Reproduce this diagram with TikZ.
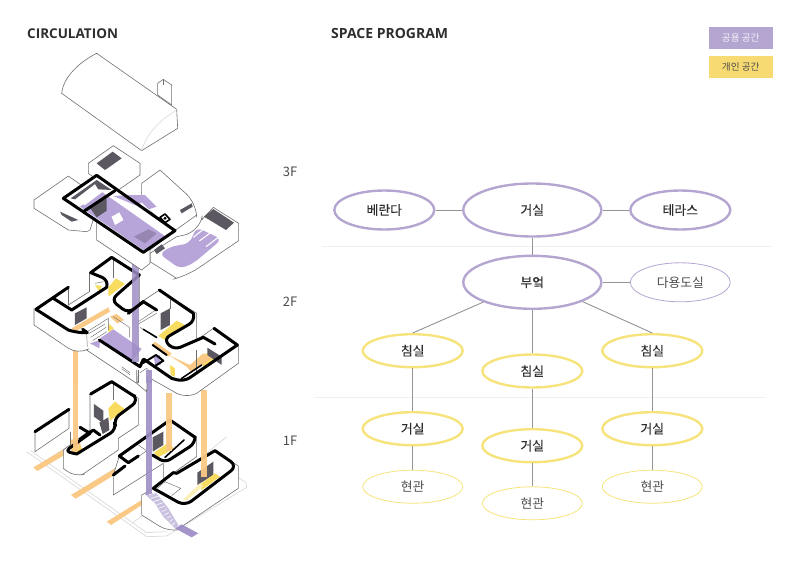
\documentclass[tikz,border=0pt]{standalone}
\usepackage{fontspec}
\setmainfont{Noto Sans CJK KR}
\newfontfamily\strongko[FakeBold=0.35]{Noto Sans CJK KR}
\newfontfamily\latinhead{Open Sans}
\usetikzlibrary{shapes.geometric}
\definecolor{pubc}{HTML}{B5A5D1}
\definecolor{privc}{HTML}{F6E37C}
\definecolor{floorp}{HTML}{B7A4D8}
\definecolor{colp}{HTML}{9F8EC6}
\definecolor{floory}{HTML}{F8DC60}
\definecolor{stripo}{HTML}{FAC985}
\definecolor{darkp}{HTML}{5C5862}
\definecolor{wire}{HTML}{707070}
\definecolor{faint}{HTML}{DADADA}
\definecolor{ink}{HTML}{2E2E2E}
\tikzset{
  base/.style={ellipse,inner sep=0pt,text=ink,font=\strongko\fontsize{12.8}{14}\selectfont},
  pubbig/.style={base,draw=pubc,line width=2.4pt,minimum width=138pt,minimum height=53pt},
  pubmid/.style={base,draw=pubc,line width=2.4pt,minimum width=100pt,minimum height=39pt},
  pubthin/.style={base,draw=pubc,line width=.8pt,minimum width=100pt,minimum height=39pt,text=ink!85,font=\fontsize{12.8}{14}\selectfont},
  privmid/.style={base,draw=privc,line width=2.4pt,minimum width=100pt,minimum height=33pt},
  privthin/.style={base,draw=privc,line width=.8pt,minimum width=100pt,minimum height=33pt,text=ink!85,font=\fontsize{12.8}{14}\selectfont},
  link/.style={draw=black!42,line width=.9pt},
  divider/.style={draw=black!6,line width=.7pt},
  heading/.style={font=\latinhead\bfseries,text=ink,anchor=west,inner sep=0pt},
  floorlab/.style={font=\fontsize{13}{14}\selectfont,text=ink!85,inner sep=0pt},
  legend/.style={minimum width=64pt,minimum height=22.5pt,inner sep=0pt,font=\fontsize{9.6}{10}\selectfont},
  wall/.style={draw=wire,line width=.6pt,fill=white,line join=round},
  thinw/.style={draw=wire,line width=.45pt},
  thick wall/.style={draw=black,line width=3pt,line join=round,line cap=round},
  plate/.style={draw=faint,line width=.7pt},
  zoomA/.style={x=.33333pt,y=-.33333pt,yshift=-30pt},
  zoomB/.style={x=.33333pt,y=-.33333pt,yshift=-250pt},
  zoomC/.style={x=.33333pt,y=-.33333pt,yshift=-380pt},
}
\begin{document}
\begin{tikzpicture}[x=1pt,y=-1pt]
\useasboundingbox (0,0) rectangle (800,565);

% ---------- ground floor ----------
\begin{scope}[zoomC]
  \draw[plate] (80,215) -- (440,470) -- (500,468) -- (740,322) -- (738,308) -- (680,270);
  \draw[plate] (92,212) -- (440,458) -- (500,455);
  \draw[plate] (140,240) -- (210,195);
  \draw[plate] (250,325) -- (345,265);
  \draw[plate] (395,430) -- (430,405);
  \draw[plate] (620,220) -- (680,170);
  % loose wall on the left
  \draw[wall] (105,155) -- (207,88) -- (207,145) -- (105,215) -- cycle;
  \draw[thick wall] (105,155) -- (207,88);
  % entrance strips
  \fill[stripo] (100,262) -- (235,183) -- (245,195) -- (112,273) -- cycle;
  \fill[stripo] (213,345) -- (370,250) -- (380,262) -- (227,356) -- cycle;
  \fill[stripo] (320,425) -- (425,360) -- (430,372) -- (333,435) -- cycle;
  % first block
  \draw[wall] (190,222) -- (190,265) [rounded corners=10pt] -- (225,292) [sharp corners] -- (245,285) -- (355,210) -- (355,175) -- (415,135) -- (415,55) -- (335,5) -- (270,42) -- (270,150) -- (190,210) -- cycle;
  \fill[floory] (325,85) -- (345,65) -- (375,88) -- (330,122) -- cycle;
  \fill[darkp] (282,72) -- (310,92) -- (310,130) -- (282,110) -- cycle;
  \fill[darkp] (298,128) -- (325,112) -- (328,150) -- (308,162) -- cycle;
  \fill[stripo] (210,178) -- (238,178) -- (245,208) -- (215,220) -- cycle;
  \fill[floory!70!stripo] (215,205) -- (240,200) -- (250,210) -- (225,218) -- cycle;
  \draw[thinw] (340,5) -- (340,60);
  \draw[thinw] (210,155) -- (210,195);
  \draw[thick wall] (272,42) -- (335,5) -- (405,50) [rounded corners=7pt] -- (415,62) -- (340,118) -- (350,148) [sharp corners] -- (230,222) [rounded corners=5pt] -- (195,214) [sharp corners] -- (270,160) -- (240,142);
  \draw[thick wall] (240,178) -- (280,150) -- (300,165);
  % second block
  \draw[wall] (340,285) -- (340,345) -- (490,250) -- (490,300) -- (590,230) -- (590,170) -- (510,120) -- (358,228) -- cycle;
  \fill[darkp] (458,172) -- (490,155) -- (490,195) -- (458,215) -- cycle;
  \fill[floory] (462,218) -- (505,188) -- (522,205) -- (475,232) -- cycle;
  \draw[thick wall] (358,228) -- (510,120) -- (585,172) [rounded corners=6pt] -- (585,190) -- (495,248) [sharp corners] -- (458,225);
  \draw[thick wall] (358,228) -- (385,248) -- (415,228);
  \draw[thick wall] (340,285) -- (375,258);
  \draw[thick wall,line width=1.6pt] (495,232) -- (552,180);
  \draw[thinw] (415,195) -- (440,212) -- (418,228);
  % third block
  \draw[wall] (425,345) -- (425,405) [rounded corners=10pt] -- (505,455) [sharp corners] -- (530,450) -- (715,325) -- (715,258) -- (645,212) -- (530,280) -- (520,278) -- (460,325) -- cycle;
  \fill[darkp] (592,278) -- (640,245) -- (640,285) -- (592,315) -- cycle;
  \fill[floory] (598,315) -- (645,280) -- (660,290) -- (605,330) -- cycle;
  \fill[floory!45] (548,360) -- (600,310) -- (610,318) -- (562,360) -- cycle;
  \draw[thick wall] (460,325) [rounded corners=8pt] -- (555,378) -- (712,258) [sharp corners] -- (645,212) -- (530,280) -- (520,278) -- cycle;
  \draw[thinw] (495,305) -- (542,325) -- (515,347);
  \draw[thinw] (468,328) -- (495,305);
  % shafts rising from the ground floor
  \fill[stripo,opacity=.95] (218,0) rectangle (234,212);
  \fill[stripo,opacity=.95] (498,40) rectangle (516,212);
  \fill[stripo,opacity=.95] (602,30) rectangle (620,292);
  \fill[colp,opacity=.9] (438,0) rectangle (456,345);
  % entrance stair with its treads
  \fill[colp,opacity=.55] (432,340) -- (468,338) -- (505,385) -- (535,435) -- (525,445) -- (490,410) -- (465,370) -- cycle;
  \foreach \t in {0,1,...,9}
    \draw[white,line width=.6pt] ({445+\t*8},{345+\t*10}) -- ({470+\t*6},{338+\t*10});
  \fill[colp,opacity=.95] (525,445) -- (545,433) -- (595,460) -- (575,472) -- cycle;
\end{scope}

% ---------- upper bedroom floor ----------
\begin{scope}[zoomB]
  \fill[stripo] (218,300) rectangle (234,400);
  \draw[wall] (102,178) -- (102,225) [rounded corners=12pt] -- (235,315) [sharp corners] -- (260,300) -- (410,400) -- (410,360) -- (412,402) -- (440,425) -- (442,380) [rounded corners=12pt] -- (560,447) [sharp corners] -- (590,430) -- (715,340) -- (715,285) -- (640,235) -- (590,270) -- (590,190) -- (478,120) -- (418,160) -- (418,75) -- (335,22) -- (268,68) -- (268,125) -- (205,165) -- (205,110) -- cycle;
  % floors and finishes
  \fill[floory] (325,112) -- (348,85) -- (375,102) -- (325,140) -- cycle;
  \fill[floory] (285,105) -- (305,108) -- (298,125) -- cycle;
  \fill[floory] (475,258) -- (530,212) -- (560,228) -- (495,270) -- cycle;
  \fill[floory] (325,220) -- (342,235) -- (325,248) -- cycle;
  \fill[floory] (600,318) -- (635,305) -- (642,335) -- (610,350) -- cycle;
  \fill[floory] (510,345) -- (525,355) -- (525,380) -- (512,375) -- cycle;
  \fill[stripo] (215,235) -- (325,172) -- (330,185) -- (225,245) -- cycle;
  \fill[stripo] (330,200) -- (350,192) -- (372,210) -- (352,220) -- cycle;
  \fill[stripo] (455,285) -- (465,275) -- (515,310) -- (505,320) -- cycle;
  \fill[stripo] (505,315) -- (570,345) -- (610,310) -- (640,322) -- (575,368) -- (560,350) -- cycle;
  \fill[floorp] (300,265) -- (340,238) -- (425,297) -- (395,332) -- cycle;
  \fill[floorp] (270,280) -- (300,270) -- (298,295) -- cycle;
  \fill[darkp] (225,190) -- (260,172) -- (260,205) -- (225,225) -- cycle;
  \fill[darkp] (482,190) -- (510,175) -- (510,225) -- (482,240) -- cycle;
  \fill[darkp] (622,293) -- (665,320) -- (665,345) -- (622,315) -- cycle;
  \fill[floorp] (462,322) -- (480,315) -- (482,345) -- (465,345) -- cycle;
  % faint wall edges and stairs
  \draw[thinw] (268,68) -- (268,125);
  \draw[thinw] (340,22) -- (340,85);
  \draw[thinw] (205,110) -- (205,165);
  \draw[thinw] (260,250) -- (262,290);
  \draw[thinw] (262,245) -- (325,205) -- (325,240);
  \draw[thinw] (268,250) -- (315,222);
  \draw[thinw] (272,262) -- (318,232);
  \draw[thinw] (278,272) -- (320,245);
  \draw[thinw] (285,100) -- (310,95);
  \draw[thinw] (340,200) -- (388,232) -- (388,262);
  \draw[thinw] (365,350) -- (390,368);
  \draw[thinw] (365,356) -- (390,374);
  \draw[thinw] (416,360) -- (416,400);
  \draw[thinw] (420,368) -- (440,355) -- (450,365);
  \draw[thinw] (510,140) -- (510,178);
  \draw[thinw] (590,300) -- (590,365);
  \draw[thinw] (415,215) -- (470,178);
  \draw[thinw] (420,232) -- (470,265);
  \draw[thinw] (415,222) -- (470,190);
  % structural walls
  \draw[thick wall] (108,178) -- (205,112);
  \draw[thick wall] (160,145) -- (215,180) -- (320,112) [rounded corners=7pt] -- (326,90) [sharp corners] -- (272,68) -- (335,22) -- (418,75) [rounded corners=7pt] -- (333,150) -- (385,190) [sharp corners] -- (430,155) -- (470,180);
  \draw[thick wall] (108,178) -- (205,240) [rounded corners=7pt] -- (232,248) [sharp corners] -- (262,248) -- (248,238);
  \draw[thick wall] (478,120) -- (580,190) [rounded corners=7pt] -- (586,212) -- (490,268) -- (522,300) [sharp corners] -- (610,262) -- (645,282);
  \draw[thick wall] (642,235) -- (712,285) [rounded corners=7pt] -- (552,395) [sharp corners] -- (515,385) -- (432,328);
  \draw[thick wall] (298,270) -- (420,350) -- (430,328);
  \draw[thick wall,line width=2pt] (428,340) -- (468,315) -- (490,332) -- (462,350);
  \draw[thick wall,line width=2pt] (458,285) -- (500,315);
  \draw[thick wall,line width=1.5pt] (545,385) -- (605,345);
  \draw[thick wall,line width=1.5pt] (430,238) -- (470,262);
  % central shafts
  \fill[colp,opacity=.85] (395,40) rectangle (416,335);
  \fill[colp,opacity=.9] (438,360) rectangle (456,400);
  \draw[thick wall] (385,190) -- (430,155);
\end{scope}

% ---------- top floor ----------
\begin{scope}[zoomA]
  % small block at the back
  \draw[wall] (265,400) -- (340,347) -- (420,400) -- (420,435) -- (345,487) -- (265,430) -- cycle;
  \fill[darkp] (290,400) -- (338,365) -- (365,385) -- (315,420) -- cycle;
  % left wing
  \draw[wall] (102,510) -- (205,438) -- (300,505) -- (270,600) -- (260,605) -- (205,600) -- (102,535) -- cycle;
  \fill[darkp] (180,545) -- (235,570) -- (215,575) -- (185,555) -- cycle;
  % right wing
  \draw[wall] (425,460) -- (480,420) [rounded corners=14pt] -- (590,520) [sharp corners] -- (590,555) -- (520,605) -- (425,520) -- cycle;
  \fill[darkp] (540,540) -- (575,520) -- (578,530) -- (545,550) -- cycle;
  % terrace
  \draw[wall] (450,670) -- (530,620) [rounded corners=16pt] -- (600,605) [sharp corners] -- (605,570) -- (640,532) -- (716,580) -- (716,632) [rounded corners=14pt] -- (560,738) [sharp corners] -- (530,745) -- (450,695) -- cycle;
  \fill[floorp,rounded corners=6pt] (478,672) -- (512,650) -- (568,640) -- (590,592) -- (665,628) -- (580,700) -- (540,716) -- cycle;
  \draw[white,line width=1.1pt] (580,622) -- (610,598);
  \draw[white,line width=1.1pt] (598,633) -- (632,608);
  \draw[white,line width=1.1pt] (618,650) -- (655,622);
  \fill[darkp] (612,560) -- (640,537) -- (702,578) -- (678,600) -- cycle;
  % central volume
  \draw[wall] (190,505) -- (290,436) -- (525,602) -- (450,660) -- (450,700) -- (425,720) -- (290,630) -- (290,575) -- cycle;
  \fill[floorp] (240,530) -- (305,485) -- (500,622) -- (430,660) -- cycle;
  \fill[floorp] (340,498) -- (400,495) -- (435,495) -- (470,530) -- (440,540) -- cycle;
  \fill[white] (335,560) -- (358,547) -- (370,570) -- (345,585) -- cycle;
  \fill[white] (395,535) -- (425,518) -- (500,590) -- (485,610) -- cycle;
  \fill[white] (225,515) -- (290,468) -- (315,480) -- (255,525) -- cycle;
  \fill[floorp!82!black] (402,620) -- (445,598) -- (470,610) -- (435,640) -- cycle;
  \fill[darkp] (212,505) -- (290,450) -- (335,480) -- (295,478) -- (285,462) -- (225,508) -- cycle;
  \fill[darkp] (268,530) -- (320,505) -- (320,542) -- (290,562) -- cycle;
  \fill[darkp] (462,660) -- (485,643) -- (495,655) -- (470,672) -- cycle;
  \draw[thick wall] (190,505) -- (290,436) -- (525,602) -- (430,667) -- cycle;
  \draw[thick wall] (345,482) -- (250,545);
  % corner post
  \draw[thick wall,fill=white,line width=1.6pt] (480,562) -- (495,552) -- (510,568) -- (495,578) -- cycle;
  \fill (495,565) circle (1.6pt);
  % roof
  \draw[wall] (473,160) -- (490,148) -- (515,165) -- (515,225) -- (473,195) -- cycle;
  \draw[thinw] (490,148) -- (490,165);
  \draw[wall] (290,70) -- (530,238) -- (533,295) -- (425,362) -- (185,190) .. controls (190,140) and (240,95) .. (290,70) -- cycle;
  \draw[draw=faint,line width=.6pt] (425,362) .. controls (440,310) and (480,270) .. (530,240);
\end{scope}

% ---------- headings ----------
\node[heading,font=\latinhead\bfseries\fontsize{13.5}{14}\selectfont] (titlecirc) at (27,33.5) {CIRCULATION};
\node[heading,font=\latinhead\bfseries\fontsize{14}{14}\selectfont] (titleprog) at (331,33.5) {SPACE PROGRAM};
\node[legend,fill=pubc,text=white!85!pubc] (legendpub) at (740.7,37.8) {공용 공간};
\node[legend,fill=privc!92!orange,text=ink!85] (legendpriv) at (740.7,67.2) {개인 공간};
\node[floorlab] (f3) at (290,172) {3F};
\node[floorlab] (f2) at (290,302) {2F};
\node[floorlab] (f1) at (290,441) {1F};

% ---------- level dividers ----------
\coordinate (d1a) at (322,246);
\coordinate (d1b) at (772,246);
\coordinate (d2a) at (314,397);
\coordinate (d2b) at (766,397);
\draw[divider] (d1a) -- (d1b);
\draw[divider] (d2a) -- (d2b);

% ---------- programme graph ----------
\node[pubmid] (veranda) at (384.3,210) {베란다};
\node[pubbig] (living) at (532.3,210) {거실};
\node[pubmid] (terrace) at (680.3,210) {테라스};
\node[pubbig] (kitchen) at (532.3,282.3) {부엌};
\node[pubthin] (utility) at (680.3,282.3) {다용도실};
\node[privmid] (bedl) at (412.7,350.7) {침실};
\node[privmid] (bedc) at (532.3,371) {침실};
\node[privmid] (bedr) at (652.3,350.7) {침실};
\node[privmid] (livl) at (412.7,428.7) {거실};
\node[privmid] (livc) at (532.3,445.7) {거실};
\node[privmid] (livr) at (652.3,428.7) {거실};
\node[privthin] (entl) at (412.7,486.7) {현관};
\node[privthin] (entc) at (532.3,503.3) {현관};
\node[privthin] (entr) at (652.3,486.7) {현관};

\draw[link] (veranda) -- (living);
\draw[link] (living) -- (terrace);
\draw[link] (living) -- (kitchen);
\draw[link] (kitchen) -- (utility);
\draw[link] (kitchen.202.5) -- (bedl.north);
\draw[link] (kitchen) -- (bedc);
\draw[link] (kitchen.339) -- (bedr.north);
\draw[link] (bedl) -- (livl);
\draw[link] (bedc) -- (livc);
\draw[link] (bedr) -- (livr);
\draw[link] (livl) -- (entl);
\draw[link] (livc) -- (entc);
\draw[link] (livr) -- (entr);
\end{tikzpicture}
\end{document}
